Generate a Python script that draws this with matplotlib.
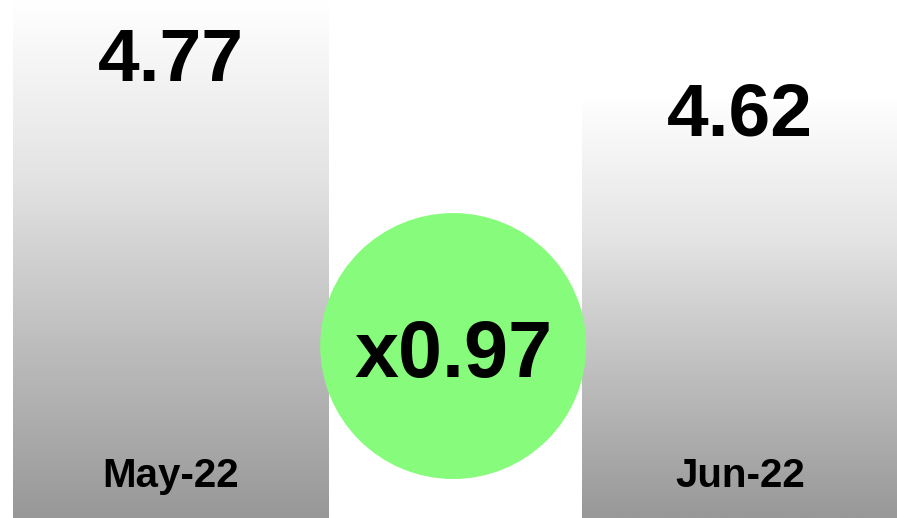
import numpy as np
import matplotlib
matplotlib.use("Agg")
import matplotlib.pyplot as plt
from matplotlib.patches import Rectangle
from matplotlib.transforms import blended_transform_factory
from matplotlib.colors import LinearSegmentedColormap

# ---- data ----
categories = ["May-22", "Jun-22"]
values = [4.77, 4.62]
value_labels = ["4.77", "4.62"]

ratio = values[1] / values[0]
ratio_label = f"x{ratio:.2f}"

# ---- style ----
plt.rcParams['font.family'] = ['Liberation Sans', 'DejaVu Sans']
fig = plt.figure(figsize=(8.97, 5.18), dpi=100)
ax = fig.add_axes([0, 0, 1, 1])
ymin, ymax = 3.97, 4.77
ax.axis("off")

bar_w = 0.555
cmap = LinearSegmentedColormap.from_list("g", ["#ffffff", "#e4e4e4", "#bdbdbd", "#989898"])
grad = np.linspace(0, 1, 256).reshape(-1, 1)
x_pos = np.arange(len(categories))
label_offsets = [-44, -13.5]  # points below bar top

for x, v, vl, cat, off in zip(x_pos, values, value_labels, categories, label_offsets):
    rect = Rectangle((x - bar_w / 2, ymin), bar_w, v - ymin, facecolor="none", edgecolor="none")
    ax.add_patch(rect)
    im = ax.imshow(grad, cmap=cmap, aspect="auto", origin="upper",
                   extent=[x - bar_w / 2, x + bar_w / 2, ymin, v], zorder=1)
    im.set_clip_path(rect)
    ax.annotate(vl, xy=(x, v), xytext=(0, off), textcoords="offset points",
                ha="center", va="center", fontsize=54, fontweight="bold", color="black", zorder=5)
    ax.text(x, 0.082, cat, transform=blended_transform_factory(ax.transData, ax.transAxes),
            ha="center", va="center", fontsize=29, fontweight="bold", color="black", zorder=5)

ax.set_xlim(-0.3005, 1.276)
ax.set_ylim(ymin, ymax)

# ratio circle
tr = blended_transform_factory(ax.transData, ax.transAxes)
cx = (x_pos[0] + x_pos[1]) / 2 - 0.004
ax.scatter([cx], [0.332], s=191.5 ** 2, color="#87fc7c", edgecolors="none", zorder=3, transform=tr)
ax.text(cx, 0.311, ratio_label, transform=tr, ha="center", va="center",
        fontsize=57, fontweight="bold", color="black", zorder=6)

fig.savefig("out.png", dpi=100)
